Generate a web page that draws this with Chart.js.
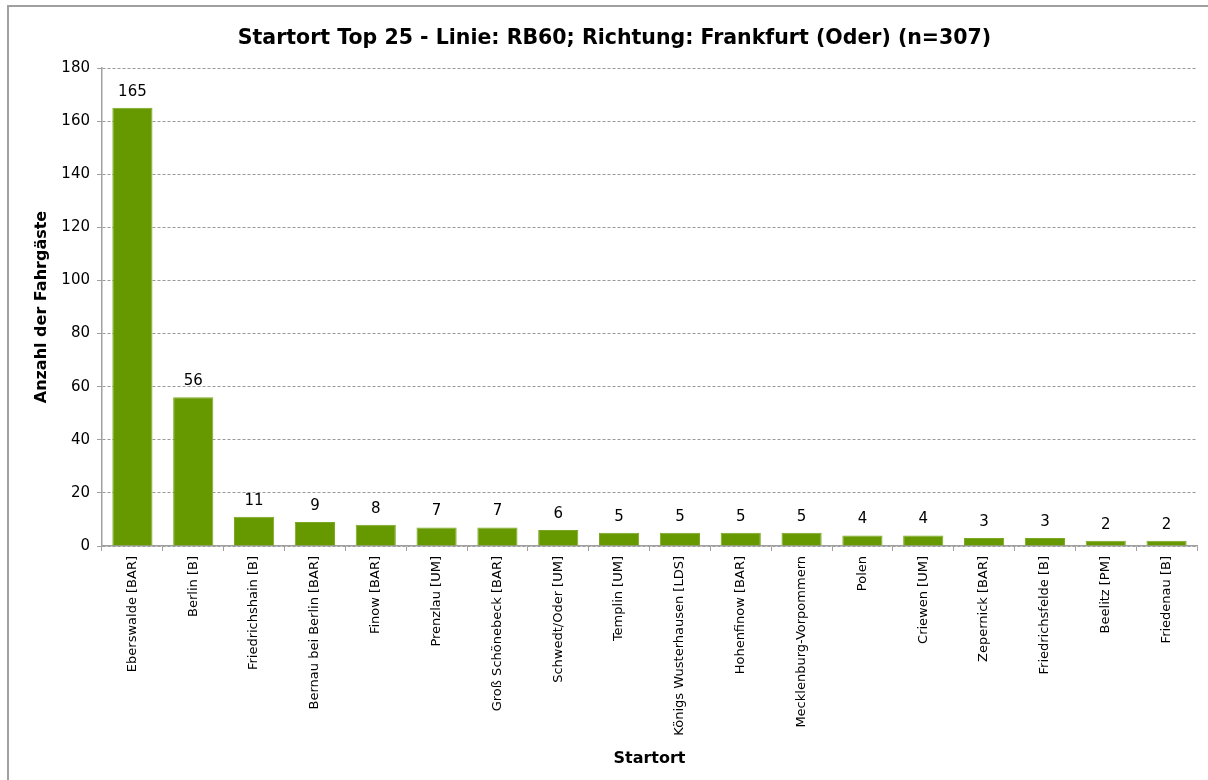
<!DOCTYPE html>
<html>
<head>
<meta charset="utf-8">
<script src="https://cdn.jsdelivr.net/npm/chart.js@4/dist/chart.umd.min.js"></script>
<style>
  html, body { margin: 0; padding: 0; background: #ffffff; }
  #wrap { position: relative; width: 1208px; height: 780px; }
</style>
</head>
<body>
<div id="wrap"><canvas id="c" width="1208" height="780"></canvas></div>
<script>
const categories = [
  "Eberswalde [BAR]", "Berlin [B]", "Friedrichshain [B]", "Bernau bei Berlin [BAR]",
  "Finow [BAR]", "Prenzlau [UM]", "Groß Schönebeck [BAR]", "Schwedt/Oder [UM]",
  "Templin [UM]", "Königs Wusterhausen [LDS]", "Hohenfinow [BAR]", "Mecklenburg-Vorpommern",
  "Polen", "Criewen [UM]", "Zepernick [BAR]", "Friedrichsfelde [B]", "Beelitz [PM]", "Friedenau [B]"
];
const counts = [165, 56, 11, 9, 8, 7, 7, 6, 5, 5, 5, 5, 4, 4, 3, 3, 2, 2];
const yTicks = [0, 20, 40, 60, 80, 100, 120, 140, 160, 180];
const chartTitle = "Startort Top 25 - Linie: RB60; Richtung: Frankfurt (Oder) (n=307)";
const xTitle = "Startort";
const yTitle = "Anzahl der Fahrgäste";

Chart.defaults.font.family = "'DejaVu Sans', Verdana, sans-serif";
Chart.defaults.color = "#000000";

const frame = {
  id: "frame",
  beforeDraw(chart) {
    const ctx = chart.ctx;
    ctx.save();
    ctx.fillStyle = "#ffffff";
    ctx.fillRect(0, 0, chart.width, chart.height);
    ctx.strokeStyle = "#a0a0a0";
    ctx.lineWidth = 2;
    ctx.beginPath();
    ctx.moveTo(8, chart.height + 5);
    ctx.lineTo(8, 6);
    ctx.lineTo(chart.width + 5, 6);
    ctx.stroke();
    ctx.restore();
  }
};

const valueLabels = {
  id: "valueLabels",
  afterDatasetsDraw(chart) {
    const ctx = chart.ctx;
    const meta = chart.getDatasetMeta(0);
    ctx.save();
    ctx.font = "15px 'DejaVu Sans'";
    ctx.fillStyle = "#000000";
    ctx.textAlign = "center";
    ctx.textBaseline = "middle";
    meta.data.forEach((bar, i) => {
      ctx.fillText(String(counts[i]), bar.x, bar.y - 16);
    });
    ctx.restore();
  }
};

new Chart(document.getElementById("c"), {
  type: "bar",
  data: {
    labels: categories,
    datasets: [{
      data: counts,
      backgroundColor: "#669900",
      borderColor: "#7aa722",
      borderWidth: 1,
      barPercentage: 0.66,
      categoryPercentage: 1.0
    }]
  },
  options: {
    responsive: false,
    animation: false,
    devicePixelRatio: 1,
    layout: { padding: { left: 32, right: 11, top: 0, bottom: 12 } },
    plugins: {
      legend: { display: false },
      tooltip: { enabled: false },
      title: {
        display: true,
        text: chartTitle,
        color: "#000000",
        font: { size: 20.5, weight: "bold", lineHeight: 1.2 },
        padding: { top: 26, bottom: 17.4 }
      }
    },
    scales: {
      x: {
        offset: true,
        grid: {
          display: true,
          offset: true,
          drawOnChartArea: false,
          drawTicks: true,
          tickLength: 5,
          color: "#a0a0a0"
        },
        border: { display: true, color: "#a0a0a0", width: 1.5 },
        ticks: {
          autoSkip: false,
          minRotation: 90,
          maxRotation: 90,
          padding: 5,
          color: "#000000",
          font: { size: 13 }
        },
        title: {
          display: true,
          text: xTitle,
          color: "#000000",
          font: { size: 16, weight: "bold", lineHeight: 1.2 },
          padding: 0
        },
        afterFit(scale) { scale.height = 222; }
      },
      y: {
        min: 0,
        max: 180,
        afterBuildTicks(scale) { scale.ticks = yTicks.map(v => ({ value: v })); },
        grid: {
          color: "#999999",
          lineWidth: 1,
          drawTicks: true,
          tickLength: 5,
          tickColor: "#a0a0a0"
        },
        border: { display: true, color: "#a0a0a0", width: 1.5, dash: [3, 2] },
        ticks: {
          padding: 7,
          color: "#000000",
          font: { size: 15 }
        },
        title: {
          display: true,
          text: yTitle,
          color: "#000000",
          font: { size: 16, weight: "bold", lineHeight: 1.2 },
          padding: 0
        },
        afterFit(scale) { scale.width = 70; }
      }
    }
  },
  plugins: [frame, valueLabels]
});
</script>
</body>
</html>
